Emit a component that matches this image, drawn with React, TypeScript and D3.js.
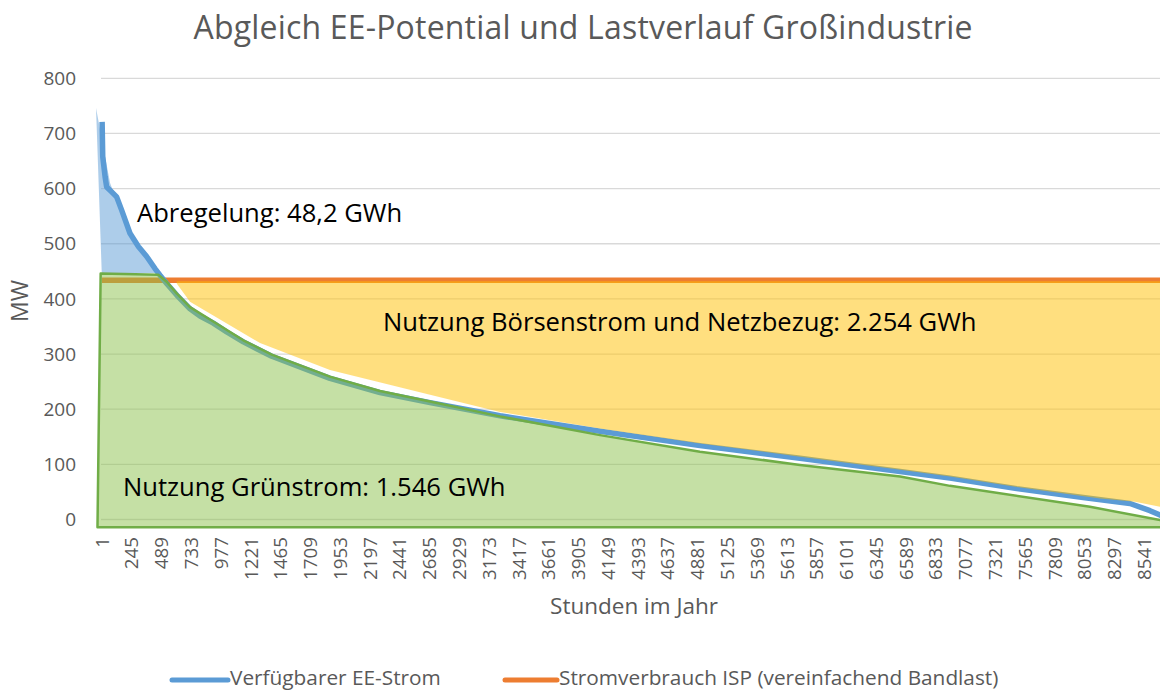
import React from 'react';
import * as d3 from 'd3';

const W = 1160;
const H = 691;

// X tick labels (hours of the year)
const xTickLabels = [1, 245, 489, 733, 977, 1221, 1465, 1709, 1953, 2197, 2441, 2685, 2929, 3173, 3417, 3661, 3905, 4149, 4393, 4637, 4881, 5125, 5369, 5613, 5857, 6101, 6345, 6589, 6833, 7077, 7321, 7565, 7809, 8053, 8297, 8541];
const yTicks = [0, 100, 200, 300, 400, 500, 600, 700, 800];

// Verfügbarer EE-Strom (sorted duration curve, MW)
const eeHours = [1, 6, 25, 38, 79, 120, 161, 229, 298, 366, 434, 475, 530, 612, 721, 803, 912, 1022, 1158, 1391, 1868, 2278, 2688, 3262, 4081, 4900, 5720, 6540, 6949, 7496, 8040, 8424, 8588, 8670, 8760];
const eeMW = [721, 658, 622, 603, 594, 585, 561, 519, 495, 477, 455, 443, 428, 407, 382, 369, 356, 340, 322, 296, 256, 230, 212, 188, 160, 134, 111, 87, 75, 56, 40, 29, 16, 8, 2];

// Stromverbrauch ISP (Bandlast, MW)
const loadHours = [0, 8760];
const loadMW = [434, 434];

// Hand-drawn overlay shapes (hour, MW)
const curtailHours = [-49, 66, 172, 287, 369, 451, -2];
const curtailMW = [746, 610, 548, 501, 471, 447, 447];

const greenHours = [-37, -11, 461, 530, 612, 721, 912, 1158, 1391, 1868, 2278, 2688, 3262, 4081, 4900, 5720, 6540, 6949, 8096, 8670, 8760, 8760];
const greenMW = [-14, 446, 444, 431, 410, 385, 359, 325, 299, 259, 233, 214, 187, 153, 123, 99, 78, 61, 23, -1, -6, -14];

const gridBuyBottomHours = [612, 721, 1295, 1868, 2688, 3262, 4081, 4900, 5720, 6540, 6949, 7496, 8178, 8465, 8670, 8760];
const gridBuyBottomMW = [428, 395, 320, 271, 226, 195, 165, 138, 114, 90, 78, 59, 38, 32, 23, 18];
const gridBuyTopMW = 432;

const x = d3.scaleLinear().domain([0, 8760]).range([102, 1171]);
const y = d3.scaleLinear().domain([0, 800]).range([519.5, 78.3]);

const pts = (hs: number[], vs: number[]): [number, number][] => hs.map((h, i) => [x(h), y(vs[i])]);
const line = d3.line<[number, number]>();

export default function App() {
  const eePath = line(pts(eeHours, eeMW)) || '';
  const loadPath = line(pts(loadHours, loadMW)) || '';
  const curtailPath = (line(pts(curtailHours, curtailMW)) || '') + 'Z';
  const greenPath = (line(pts(greenHours, greenMW)) || '') + 'Z';
  const yellowPts: [number, number][] = [
    [x(gridBuyBottomHours[0]), y(gridBuyTopMW)],
    [x(gridBuyBottomHours[gridBuyBottomHours.length - 1]), y(gridBuyTopMW)],
    ...pts(gridBuyBottomHours, gridBuyBottomMW).reverse(),
  ];
  const yellowPath = (line(yellowPts) || '') + 'Z';

  const gray = '#595959';
  return (
    <svg width={W} height={H} style={{ position: 'absolute', left: 0, top: 0 }} fontFamily="'Open Sans', sans-serif">
      <rect width={W} height={H} fill="#fff" />
      <text x={583} y={39} textAnchor="middle" fontSize={32} fill={gray} textLength={779} lengthAdjust="spacing">Abgleich EE-Potential und Lastverlauf Großindustrie</text>
      {yTicks.map((t) => (
        <g key={t}>
          <line x1={101} x2={1171} y1={y(t)} y2={y(t)} stroke="#d9d9d9" strokeWidth={1.3} />
          <text x={76} y={y(t)} dy="0.35em" textAnchor="end" fontSize={19} fill={gray}>{t}</text>
        </g>
      ))}
      {xTickLabels.map((t) => (
        <text key={t} transform={`translate(${x(t)},537) rotate(-90)`} dy="0.35em" textAnchor="end" fontSize={18.8} fill={gray}>{t}</text>
      ))}
      <text transform="translate(20,301) rotate(-90)" textAnchor="middle" dy="0.35em" fontSize={23} fill={gray}>MW</text>
      <text x={634} y={614} textAnchor="middle" fontSize={22.5} fill={gray}>Stunden im Jahr</text>

      <path d={loadPath} fill="none" stroke="#ED7D31" strokeWidth={5.5} />
      <path d={eePath} fill="none" stroke="#5B9BD5" strokeWidth={5.5} strokeLinejoin="round" />
      <path d={curtailPath} fill="#5B9BD5" fillOpacity={0.5} />
      <path d={yellowPath} fill="#FFC000" fillOpacity={0.5} />
      <path d={greenPath} fill="rgb(139,193,75)" fillOpacity={0.5} stroke="#70AD47" strokeWidth={2.5} strokeLinejoin="round" />

      <text x={137} y={222} fontSize={25.6} fill="#000">Abregelung: 48,2 GWh</text>
      <text x={383} y={331} fontSize={25.6} fill="#000">Nutzung Börsenstrom und Netzbezug: 2.254 GWh</text>
      <text x={123} y={496} fontSize={25.6} fill="#000">Nutzung Grünstrom: 1.546 GWh</text>

      <line x1={172} x2={228} y1={680} y2={680} stroke="#5B9BD5" strokeWidth={5} strokeLinecap="round" />
      <text x={230} y={685} fontSize={20.8} fill={gray}>Verfügbarer EE-Strom</text>
      <line x1={505} x2={557} y1={680} y2={680} stroke="#ED7D31" strokeWidth={5} strokeLinecap="round" />
      <text x={559} y={685} fontSize={20.8} fill={gray}>Stromverbrauch ISP (vereinfachend Bandlast)</text>
    </svg>
  );
}
